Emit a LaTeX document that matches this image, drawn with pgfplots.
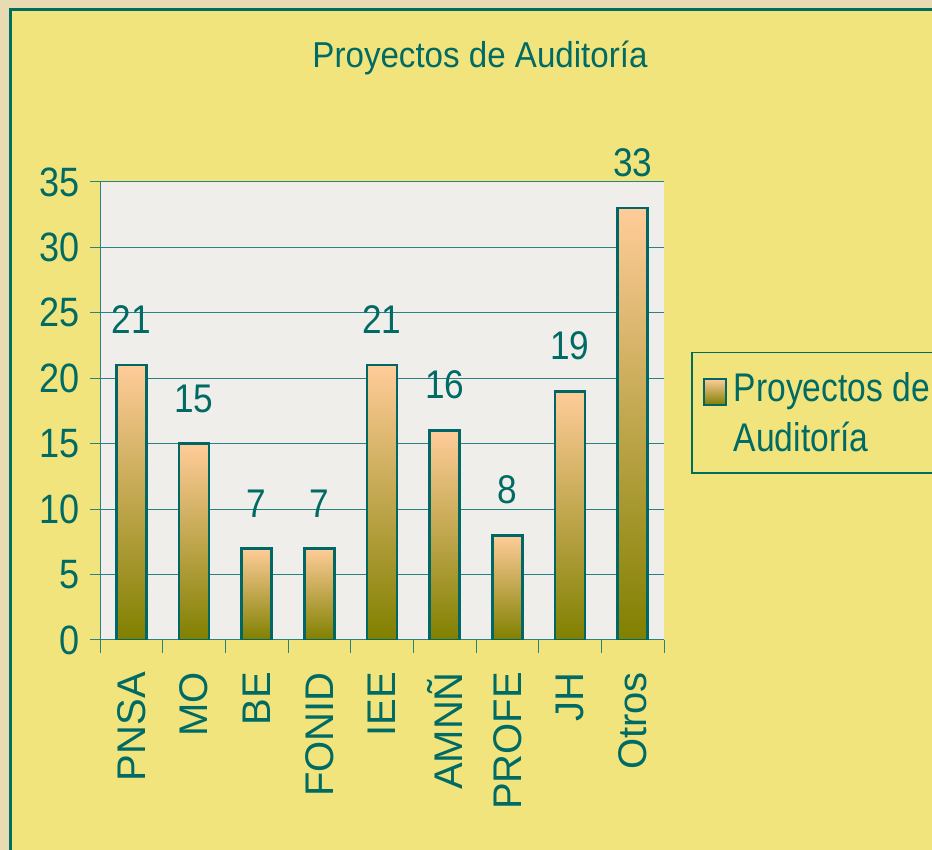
\documentclass[border=0pt]{standalone}
\usepackage{pgfplots}
\pgfplotsset{compat=1.18}
\usepackage{fontspec}
\setmainfont{Liberation Sans}
\newfontfamily\fTitle[FakeStretch=0.92]{Liberation Sans}
\newfontfamily\fTick[FakeStretch=0.88]{Liberation Sans}
\newfontfamily\fVal[FakeStretch=0.88]{Liberation Sans}
\newfontfamily\fLeg[FakeStretch=0.84]{Liberation Sans}
\definecolor{bgout}{RGB}{232,218,178}
\definecolor{ybg}{RGB}{242,228,124}
\definecolor{plotbg}{RGB}{240,238,234}
\definecolor{tealtxt}{RGB}{0,106,100}
\definecolor{frame}{RGB}{0,110,95}
\definecolor{barline}{RGB}{0,102,102}
\definecolor{peach}{RGB}{255,204,153}
\definecolor{olive}{RGB}{128,128,0}
\definecolor{gridc}{RGB}{40,130,130}
\pgfplotsset{mybar/.style={draw=barline, line width=2.5pt, top color=peach, bottom color=olive, bar shift=0pt}}
\begin{document}
\begin{tikzpicture}[x=1pt,y=1pt]
\fill[bgout] (0,0) rectangle (932,850);
\path[use as bounding box] (0,0) rectangle (932,850);
\fill[ybg] (10,-10) rectangle (950,840);
\draw[frame, line width=3pt] (10,-10) -- (10,840) -- (950,840);
\begin{axis}[
  at={(100pt,210pt)}, anchor=south west,
  scale only axis, width=564pt, height=458pt,
  ybar, bar width=30pt,
  xmin=-0.5, xmax=8.5, ymin=0, ymax=35,
  enlargelimits=false,
  axis lines*=left,
  axis line style={draw=gridc, line width=1pt},
  axis background/.style={fill=plotbg},
  xtick={0,...,8},
  xticklabels={PNSA,MO,BE,FONID,IEE,AMNÑ,PROFE,JH,Otros},
  major x tick style={draw=none},
  minor xtick={-0.5,0.5,...,8.5},
  minor tick length=13pt,
  major tick length=10pt,
  tick align=outside,
  tick style={draw=gridc, line width=1pt},
  ytick={0,5,...,35},
  ymajorgrids,
  grid style={draw=gridc, line width=1pt},
  /pgf/number format/assume math mode=true,
  xticklabel shift=22pt,
  yticklabel shift=10pt,
  xticklabel style={rotate=90, anchor=east, inner sep=0pt, text=tealtxt, font=\fontsize{40}{40}\selectfont},
  yticklabel style={anchor=east, inner sep=0pt, text=tealtxt, font=\fTick\fontsize{41}{41}\selectfont},
  nodes near coords,
  nodes near coords style={anchor=south, inner sep=0pt, yshift=30pt, text=tealtxt, font=\fVal\fontsize{40}{40}\selectfont},
  legend style={at={(1.048,0.629)}, anchor=north west, draw=frame, line width=1.5pt, fill=ybg,
    text=tealtxt, font=\fLeg\fontsize{40}{50}\selectfont, inner xsep=11pt, inner ysep=18pt,
    cells={align=left}},
  legend image code/.code={\draw[barline, line width=2pt, top color=peach, bottom color=olive] (0pt,8pt) rectangle (22pt,34pt); \path[draw=none] (0pt,20pt) -- (28pt,20pt);},
]
\addplot[mybar] coordinates {(0,21)};
\addlegendentry{Proyectos de\\Auditoría}
\addplot[mybar, forget plot] coordinates {(1,15)};
\addplot[mybar, forget plot] coordinates {(2,7)};
\addplot[mybar, forget plot] coordinates {(3,7)};
\addplot[mybar, forget plot] coordinates {(4,21)};
\addplot[mybar, forget plot] coordinates {(5,16)};
\addplot[mybar, forget plot] coordinates {(6,8)};
\addplot[mybar, forget plot] coordinates {(7,19)};
\addplot[mybar, forget plot] coordinates {(8,33)};
\end{axis}
\node[anchor=base, inner sep=0pt, text=tealtxt, font=\fTitle\fontsize{36}{36}\selectfont] at (480,782) {Proyectos de Auditoría};
\end{tikzpicture}
\end{document}
